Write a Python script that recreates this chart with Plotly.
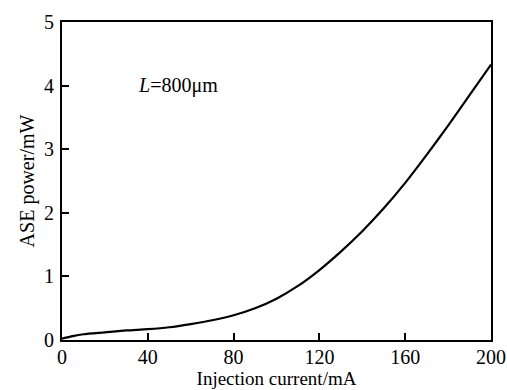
import plotly.graph_objects as go

current_mA = [0, 5, 10, 20, 30, 40, 50, 60, 70, 80, 90, 100, 110, 120, 130, 140, 150, 160, 170, 180, 190, 200]
ase_power_mW = [0.02, 0.06, 0.09, 0.12, 0.15, 0.17, 0.20, 0.25, 0.31, 0.39, 0.50, 0.65, 0.85, 1.10, 1.39, 1.71, 2.07, 2.47, 2.91, 3.37, 3.85, 4.33]

x_ticks = [0, 40, 80, 120, 160, 200]
y_ticks = [0, 1, 2, 3, 4, 5]

font_family = "Liberation Serif"
fsize = 20

fig = go.Figure()
fig.add_trace(go.Scatter(
    x=current_mA, y=ase_power_mW, mode="lines",
    line=dict(color="black", width=2.2, shape="spline", smoothing=0.7),
    showlegend=False,
))

fig.add_annotation(
    x=54, y=4, xref="x", yref="y",
    text="<i>L</i>=800\u03bcm", showarrow=False,
    font=dict(family=font_family, size=fsize, color="black"),
)

axis_common = dict(
    showline=True, linecolor="black", linewidth=2, mirror=True,
    ticks="inside", ticklen=7, tickwidth=1.5, tickcolor="black",
    showgrid=False, zeroline=False,
    tickfont=dict(family=font_family, size=fsize, color="black"),
)

fig.update_xaxes(
    range=[0, 200], tickvals=x_ticks, ticktext=[str(v) for v in x_ticks],
    title=dict(text="Injection current/mA", font=dict(family=font_family, size=19, color="black"), standoff=0),
    ticklabelstandoff=-2,
    **axis_common,
)
fig.update_yaxes(
    range=[0, 5], tickvals=y_ticks, ticktext=[str(v) for v in y_ticks],
    title=dict(text="ASE power/mW", font=dict(family=font_family, size=fsize, color="black"), standoff=4),
    ticklabelstandoff=2,
    **axis_common,
)

fig.update_layout(
    width=507, height=390,
    margin=dict(l=62, r=16, t=22, b=50, autoexpand=False),
    plot_bgcolor="white", paper_bgcolor="white",
)

fig.write_html("out.html")
